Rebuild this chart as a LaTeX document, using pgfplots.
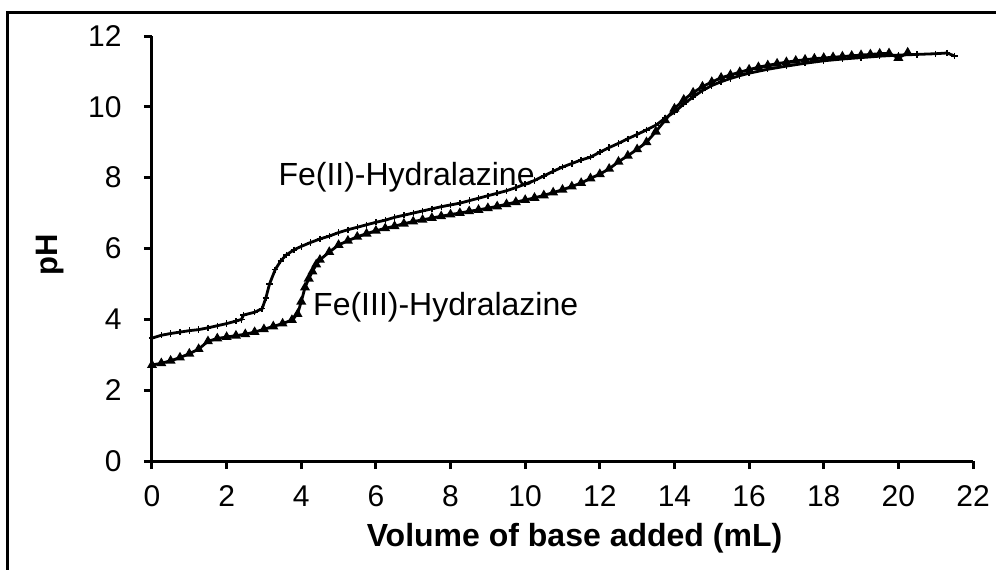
\documentclass[border=0pt]{standalone}
\usepackage{pgfplots}
\pgfplotsset{compat=1.18}
\usepackage{fontspec}
\setmainfont{Liberation Sans}
\begin{document}
\fontsize{15}{18}\selectfont
\begin{tikzpicture}
\path[use as bounding box] (-76pt,-54pt) rectangle (422pt,230.5pt);
\draw[line width=1.5pt] (-72pt,-60pt) -- (-72pt,224.5pt) -- (430pt,224.5pt);
\begin{axis}[
  at={(0,0)}, anchor=south west,
  scale only axis, width=410.5pt, height=212.5pt,
  xmin=0, xmax=22, ymin=0, ymax=12,
  xtick={0,2,...,22}, ytick={0,2,...,12},
  axis x line*=bottom, axis y line*=left,
  axis line style={line width=1.5pt, -},
  tick align=outside, major tick length=4pt,
  tick style={line width=1.5pt, black},
  /pgf/number format/assume math mode=true,
  tick label style={font=\fontsize{15}{18}\selectfont},
  xticklabel style={yshift=-3pt},
  yticklabel style={xshift=-6pt},
  clip=false,
]
\addplot[black, line width=1.4pt, mark=+, mark size=1.6pt, mark options={line width=0.7pt}] coordinates {
(0,3.47)(0.25,3.55)(0.5,3.6)(0.75,3.64)(1.0,3.68)(1.25,3.71)(1.5,3.76)(1.75,3.82)
(2.0,3.88)(2.25,3.95)(2.4,4.0)(2.45,4.12)(2.75,4.2)(2.95,4.3)(3.05,4.6)(3.15,5.0)
(3.3,5.4)(3.45,5.65)(3.6,5.82)(3.8,5.96)(4.0,6.06)(4.25,6.17)(4.5,6.27)(4.75,6.35)
(5.0,6.45)(5.25,6.53)(5.5,6.6)(5.75,6.67)(6.0,6.74)(6.25,6.8)(6.5,6.88)(6.75,6.94)
(7.0,7.0)(7.25,7.06)(7.5,7.12)(7.75,7.18)(8.0,7.23)(8.25,7.28)(8.5,7.35)(8.75,7.42)
(9.0,7.49)(9.25,7.56)(9.5,7.63)(9.75,7.72)(10.0,7.82)(10.25,7.92)(10.5,8.05)(10.75,8.18)
(11.0,8.3)(11.25,8.4)(11.5,8.5)(11.75,8.58)(12.0,8.72)(12.25,8.85)(12.5,8.97)(12.75,9.1)
(13.0,9.22)(13.25,9.35)(13.5,9.48)(13.75,9.68)(14.0,9.85)(14.25,10.08)(14.5,10.28)(14.75,10.46)
(15.0,10.6)(15.25,10.71)(15.5,10.8)(15.75,10.88)(16.0,10.95)(16.5,11.06)(17.0,11.15)(17.5,11.23)
(18.0,11.3)(18.5,11.35)(19.0,11.39)(19.5,11.43)(20.0,11.46)(20.5,11.48)(21.0,11.5)(21.3,11.52)(21.5,11.44)
};
\addplot[black, line width=1.4pt, mark=triangle*, mark size=1.5pt] coordinates {
(0,2.71)(0.25,2.76)(0.5,2.83)(0.75,2.92)(1.0,3.03)(1.25,3.16)(1.5,3.38)(1.75,3.46)
(2.0,3.5)(2.25,3.54)(2.5,3.58)(2.75,3.64)(3.0,3.72)(3.25,3.8)(3.5,3.88)(3.75,3.98)
(3.9,4.15)(4.0,4.5)(4.1,4.9)(4.2,5.15)(4.3,5.35)(4.4,5.55)(4.5,5.68)(4.75,5.9)
(5.0,6.1)(5.25,6.22)(5.5,6.33)(5.75,6.42)(6.0,6.5)(6.25,6.57)(6.5,6.63)(6.75,6.7)
(7.0,6.76)(7.25,6.81)(7.5,6.86)(7.75,6.91)(8.0,6.96)(8.25,7.0)(8.5,7.05)(8.75,7.09)
(9.0,7.14)(9.25,7.19)(9.5,7.25)(9.75,7.31)(10.0,7.37)(10.25,7.43)(10.5,7.5)(10.75,7.58)
(11.0,7.66)(11.25,7.75)(11.5,7.85)(11.75,7.98)(12.0,8.1)(12.25,8.25)(12.5,8.45)(12.75,8.62)
(13.0,8.8)(13.25,9.0)(13.5,9.3)(13.75,9.62)(14.0,9.95)(14.25,10.2)(14.5,10.4)(14.75,10.57)
(15.0,10.7)(15.25,10.82)(15.5,10.9)(15.75,10.98)(16.0,11.05)(16.25,11.12)(16.5,11.17)(16.75,11.22)
(17.0,11.26)(17.25,11.3)(17.5,11.33)(17.75,11.36)(18.0,11.38)(18.25,11.4)(18.5,11.42)(18.75,11.44)
(19.0,11.46)(19.25,11.48)(19.5,11.5)(19.75,11.51)(20.0,11.38)(20.25,11.53)
};
\node[anchor=west, inner sep=0pt, font=\fontsize{16}{19}\selectfont] at (axis cs:3.38,8.0) {Fe(II)-Hydralazine};
\node[anchor=west, inner sep=0pt, font=\fontsize{16}{19}\selectfont] at (axis cs:4.31,4.35) {Fe(III)-Hydralazine};
\node[font=\bfseries\fontsize{16}{19}\selectfont] at (axis description cs:0.5146,-0.181) {Volume of base added (mL)};
\node[rotate=90, font=\bfseries\fontsize{15.5}{19}\selectfont] at (axis description cs:-0.124,0.485) {pH};
\end{axis}
\end{tikzpicture}
\end{document}
